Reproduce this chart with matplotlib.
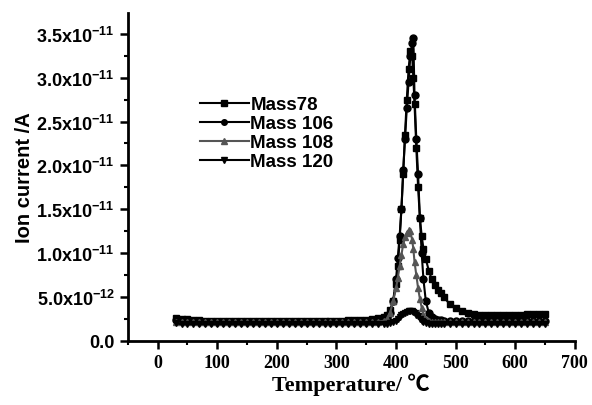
import matplotlib
matplotlib.use("Agg")
import matplotlib.pyplot as plt
from matplotlib.ticker import MultipleLocator, FixedLocator

plt.rcParams['mathtext.fontset'] = 'custom'
plt.rcParams['mathtext.rm'] = 'Liberation Sans:bold'
plt.rcParams['mathtext.it'] = 'Liberation Sans:bold'
plt.rcParams['mathtext.bf'] = 'Liberation Sans:bold'
plt.rcParams['mathtext.default'] = 'rm'

# temperatura (°C)
temps = [30, 40, 50, 60, 70, 80, 90, 100, 110, 120, 130, 140, 150, 160, 170, 180,
         190, 200, 210, 220, 230, 240, 250, 260, 270, 280, 290, 300, 310, 320, 330,
         340, 350, 360, 370, 380,
         385, 390, 395, 400, 403, 406, 409, 412, 415, 418, 421, 424, 427, 429, 431,
         434, 437, 440, 443, 446, 450, 455, 460, 465, 470, 475, 480,
         490, 500, 510, 520, 530, 540, 550, 560, 570, 580, 590, 600, 610, 620, 630,
         640, 650]

# corrente iônica, em unidades de 1e-12 A
mass78 = [2.6, 2.5, 2.5, 2.4, 2.4, 2.3, 2.3, 2.3, 2.3, 2.3, 2.3, 2.3, 2.3, 2.3, 2.3, 2.3,
          2.3, 2.3, 2.3, 2.3, 2.3, 2.3, 2.3, 2.3, 2.3, 2.3, 2.3, 2.3, 2.3, 2.4, 2.4,
          2.4, 2.4, 2.5, 2.6, 2.7,
          2.9, 3.5, 4.5, 6.5, 8.5, 11.5, 15.0, 19.0, 23.5, 27.5, 31.0, 33.0, 32.5, 30.0, 27.0,
          22.0, 17.5, 14.0, 12.0, 10.5, 9.3, 8.0, 7.0, 6.4, 5.8, 5.4, 5.0,
          4.2, 3.7, 3.4, 3.2, 3.1, 3.0, 2.95, 2.9, 2.9, 2.9, 2.95, 2.95, 3.0, 3.05, 3.05,
          3.05, 3.05]
mass106 = [2.4, 2.3, 2.3, 2.3, 2.2, 2.2, 2.2, 2.2, 2.2, 2.2, 2.2, 2.2, 2.2, 2.2, 2.2, 2.2,
           2.2, 2.2, 2.2, 2.2, 2.2, 2.2, 2.2, 2.2, 2.2, 2.2, 2.2, 2.2, 2.2, 2.2, 2.2,
           2.2, 2.2, 2.3, 2.3, 2.4,
           2.6, 3.2, 4.5, 7.0, 9.5, 12.0, 15.0, 19.5, 23.0, 26.5, 29.5, 32.5, 34.0, 34.5, 28.0,
           23.0, 19.0, 14.0, 10.0, 7.0, 4.5, 3.2, 2.7, 2.5, 2.4, 2.4, 2.3,
           2.3, 2.3, 2.3, 2.3, 2.3, 2.3, 2.3, 2.3, 2.3, 2.3, 2.3, 2.3, 2.3, 2.3, 2.3,
           2.3, 2.3]
mass108 = [2.2, 2.1, 2.1, 2.1, 2.1, 2.1, 2.1, 2.1, 2.1, 2.1, 2.1, 2.1, 2.1, 2.1, 2.1, 2.1,
           2.1, 2.1, 2.1, 2.1, 2.1, 2.1, 2.1, 2.1, 2.1, 2.1, 2.1, 2.1, 2.1, 2.1, 2.1,
           2.1, 2.1, 2.1, 2.2, 2.3,
           2.5, 3.2, 4.5, 6.0, 7.2, 8.5, 9.8, 11.0, 11.8, 12.3, 12.6, 12.5, 11.5, 10.5, 9.0,
           7.5, 6.0, 4.8, 3.8, 3.0, 2.5, 2.3, 2.2, 2.1, 2.1, 2.1, 2.1,
           2.1, 2.1, 2.1, 2.1, 2.1, 2.1, 2.1, 2.1, 2.1, 2.1, 2.1, 2.1, 2.1, 2.1, 2.1,
           2.1, 2.1]
mass120 = [2.0, 1.9, 1.9, 1.9, 1.9, 1.9, 1.9, 1.9, 1.9, 1.9, 1.9, 1.9, 1.9, 1.9, 1.9, 1.9,
           1.9, 1.9, 1.9, 1.9, 1.9, 1.9, 1.9, 1.9, 1.9, 1.9, 1.9, 1.9, 1.9, 1.9, 1.9,
           1.9, 1.9, 1.9, 1.9, 1.9,
           1.95, 2.0, 2.1, 2.3, 2.5, 2.7, 2.9, 3.1, 3.2, 3.3, 3.4, 3.4, 3.35, 3.3, 3.2,
           3.0, 2.8, 2.5, 2.3, 2.2, 2.0, 1.95, 1.9, 1.9, 1.9, 1.9, 1.9,
           1.9, 1.9, 1.9, 1.9, 1.9, 1.9, 1.9, 1.9, 1.9, 1.9, 1.9, 1.9, 1.9, 1.9, 1.9,
           1.9, 1.9]

labels = ['Mass78', 'Mass 106', 'Mass 108', 'Mass 120']
yticks = [0, 5e-12, 1.0e-11, 1.5e-11, 2.0e-11, 2.5e-11, 3.0e-11, 3.5e-11]
ytick_labels = ['0.0', r'5.0x10$^{-12}$', r'1.0x10$^{-11}$', r'1.5x10$^{-11}$',
                r'2.0x10$^{-11}$', r'2.5x10$^{-11}$', r'3.0x10$^{-11}$', r'3.5x10$^{-11}$']

fig = plt.figure(figsize=(5.92, 4.06), dpi=100)
ax = fig.add_axes([0.216, 0.158, 0.755, 0.808])

series = [(mass78, 's', 'black'), (mass106, 'o', 'black'),
          (mass108, '^', '#555555'), (mass120, 'v', 'black')]
for (vals, mk, cor), lab in zip(series, labels):
    ax.plot(temps, [v * 1e-12 for v in vals], color=cor, marker=mk, markersize=5,
            linewidth=1.5, label=lab)

ax.set_xlim(-50, 700)
ax.set_ylim(0, 3.74e-11)
ax.xaxis.set_major_locator(MultipleLocator(100))
ax.xaxis.set_minor_locator(MultipleLocator(50))
ax.yaxis.set_major_locator(FixedLocator(yticks))
ax.yaxis.set_minor_locator(MultipleLocator(2.5e-12))
ax.set_yticklabels(ytick_labels, family='Liberation Sans', fontweight='bold', fontsize=13)
for t in ax.get_xticklabels():
    t.set_family('Liberation Serif')
    t.set_fontweight('bold')
    t.set_fontsize(13)

ax.spines['top'].set_visible(False)
ax.spines['right'].set_visible(False)
ax.spines['left'].set_linewidth(2)
ax.spines['bottom'].set_linewidth(2)
ax.tick_params(which='major', direction='out', length=6, width=1.8)
ax.tick_params(which='minor', direction='out', length=3, width=1.5)

ax.set_xlabel('Temperature/ ℃', family=['Liberation Serif', 'Noto Sans CJK SC', 'DejaVu Sans'],
              fontweight='bold', fontsize=16, labelpad=1)
ax.set_ylabel('Ion current /A', family='Liberation Sans', fontweight='bold', fontsize=14.5,
              labelpad=2)

ax.legend(loc='upper left', bbox_to_anchor=(0.14, 0.775), frameon=False,
          prop={'family': 'Liberation Sans', 'weight': 'bold', 'size': 13.5},
          handlelength=2.6, handletextpad=0.1, labelspacing=0.1, borderpad=0,
          markerscale=0.8)

plt.savefig('out.png', dpi=100)
plt.close()
